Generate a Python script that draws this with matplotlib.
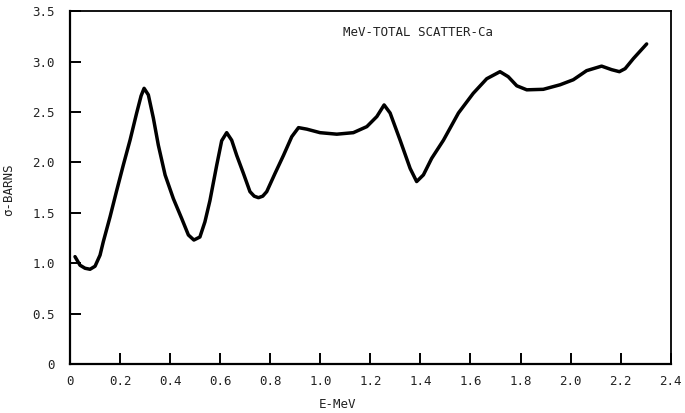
import matplotlib
matplotlib.use("Agg")
import matplotlib.pyplot as plt

# Energy (MeV) and total scattering cross section (barns)
energy = [0.020, 0.040, 0.060, 0.080, 0.100, 0.120, 0.133, 0.160, 0.186, 0.213,
          0.240, 0.266, 0.284, 0.296, 0.313, 0.333, 0.353, 0.380, 0.413, 0.446,
          0.473, 0.495, 0.519, 0.539, 0.559, 0.586, 0.606, 0.626, 0.646, 0.666,
          0.693, 0.719, 0.736, 0.753, 0.770, 0.786, 0.819, 0.853, 0.886, 0.913,
          0.946, 0.999, 1.066, 1.132, 1.186, 1.226, 1.255, 1.279, 1.319, 1.359,
          1.385, 1.412, 1.445, 1.492, 1.552, 1.611, 1.665, 1.718, 1.751, 1.785,
          1.825, 1.891, 1.958, 2.011, 2.064, 2.124, 2.164, 2.195, 2.218, 2.251,
          2.304]
sigma = [1.065, 0.980, 0.950, 0.940, 0.970, 1.080, 1.213, 1.460, 1.716, 1.974,
         2.222, 2.487, 2.660, 2.735, 2.670, 2.440, 2.170, 1.875, 1.640, 1.445,
         1.280, 1.230, 1.260, 1.410, 1.620, 1.970, 2.215, 2.295, 2.220, 2.070,
         1.890, 1.710, 1.665, 1.650, 1.665, 1.710, 1.890, 2.070, 2.255, 2.345,
         2.330, 2.295, 2.280, 2.295, 2.355, 2.455, 2.570, 2.490, 2.220, 1.940,
         1.810, 1.876, 2.040, 2.220, 2.490, 2.685, 2.830, 2.900, 2.850, 2.760,
         2.720, 2.725, 2.770, 2.820, 2.910, 2.955, 2.920, 2.900, 2.930, 3.030,
         3.175]

x_ticks = [0.0, 0.2, 0.4, 0.6, 0.8, 1.0, 1.2, 1.4, 1.6, 1.8, 2.0, 2.2, 2.4]
x_tick_labels = ["0", "0.2", "0.4", "0.6", "0.8", "1.0", "1.2", "1.4", "1.6",
                 "1.8", "2.0", "2.2", "2.4"]
y_ticks = [0.0, 0.5, 1.0, 1.5, 2.0, 2.5, 3.0, 3.5]
y_tick_labels = ["0", "0.5", "1.0", "1.5", "2.0", "2.5", "3.0", "3.5"]

title_text = "MeV-TOTAL SCATTER-Ca"
x_label = "E-MeV"
y_label = "σ-BARNS"

mono = ["DejaVu Sans Mono"]

fig = plt.figure(figsize=(6.85, 4.13), dpi=100)
ax = fig.add_axes([0.1022, 0.1186, 0.8769, 0.8543])

ax.plot(energy, sigma, color="black", linewidth=2.5,
        solid_capstyle="round", solid_joinstyle="round")

ax.set_xlim(0, 2.4)
ax.set_ylim(0, 3.5)
ax.set_xticks(x_ticks)
ax.set_xticklabels(x_tick_labels, family=mono, fontsize=9)
ax.set_yticks(y_ticks)
ax.set_yticklabels(y_tick_labels, family=mono, fontsize=9)
ax.tick_params(axis="both", direction="in", length=8, width=1.4,
               color="black", labelcolor="#222222")
ax.tick_params(axis="x", pad=8)
ax.tick_params(axis="y", pad=11)

for side, lw in (("left", 1.6), ("bottom", 1.6), ("top", 1.3), ("right", 1.3)):
    ax.spines[side].set_linewidth(lw)
    ax.spines[side].set_color("black")

ax.set_xlabel(x_label, family=mono, fontsize=9, color="#222222")
ax.xaxis.set_label_coords(0.446, -0.097)
ax.set_ylabel(y_label, family=mono, fontsize=9, color="#222222")
ax.yaxis.set_label_coords(-0.092, 0.493)

ax.text(1.09, 3.29, title_text, family=mono, fontsize=9, color="#222222",
        ha="left", va="center")

fig.savefig("out.png", dpi=100)
